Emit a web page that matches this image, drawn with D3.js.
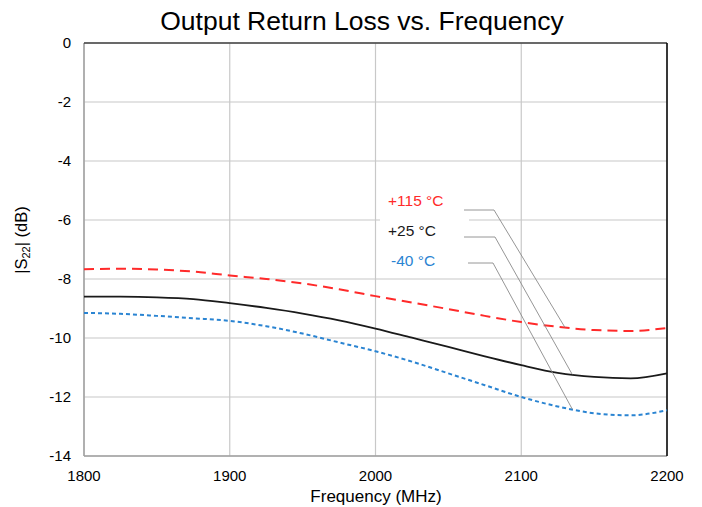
<!DOCTYPE html>
<html><head><meta charset="utf-8">
<script src="https://cdn.jsdelivr.net/npm/d3@7"></script>
<style>body{margin:0;background:#fff;} svg{display:block;font-family:"Liberation Sans",Arial,sans-serif;}</style>
</head><body>
<svg id="c" width="702" height="507"></svg>
<script>
const freqs = [1800,1825,1850,1875,1900,1925,1950,1975,2000,2025,2050,2075,2100,2125,2150,2175,2200];
const s22_p115 = [-7.67,-7.65,-7.68,-7.75,-7.88,-8.0,-8.15,-8.35,-8.58,-8.8,-9.02,-9.25,-9.46,-9.62,-9.73,-9.76,-9.66];
const s22_p25  = [-8.6,-8.6,-8.62,-8.68,-8.82,-8.98,-9.17,-9.4,-9.68,-9.99,-10.3,-10.62,-10.92,-11.18,-11.32,-11.37,-11.2];
const s22_m40  = [-9.15,-9.18,-9.25,-9.33,-9.42,-9.6,-9.85,-10.15,-10.45,-10.8,-11.2,-11.6,-12.0,-12.32,-12.55,-12.62,-12.45];
const seriesNames = ["+115 °C","+25 °C","-40 °C"];
const annoFreq = [2130,2135,2135];
const xTicks = [1800,1900,2000,2100,2200];
const yTicks = [0,-2,-4,-6,-8,-10,-12,-14];

const colors = ["#ff2a2a","#1a1a1a","#2a84d2"];
const dashes = ["10,6",null,"4,3"];
const widths = [2,1.8,2];
const series = [s22_p115,s22_p25,s22_m40];

const svg = d3.select("#c");
const L=84,R=667,T=43,B=456;
const x = d3.scaleLinear().domain([1800,2200]).range([L,R]);
const y = d3.scaleLinear().domain([-14,0]).range([B,T]);

// grid
svg.append("g").selectAll("line").data(yTicks).join("line")
  .attr("x1",L).attr("x2",R).attr("y1",d=>y(d)).attr("y2",d=>y(d))
  .attr("stroke","#c8c8c8").attr("stroke-width",1.2);
svg.append("g").selectAll("line").data(xTicks).join("line")
  .attr("x1",d=>x(d)).attr("x2",d=>x(d)).attr("y1",T).attr("y2",B)
  .attr("stroke","#c8c8c8").attr("stroke-width",1.2);

// label box covering grid
svg.append("rect").attr("x",380).attr("y",186).attr("width",89).attr("height",88).attr("fill","#fff");

// frame
svg.append("line").attr("x1",L).attr("x2",L).attr("y1",T).attr("y2",B).attr("stroke","#a0a0a0").attr("stroke-width",1.5);
svg.append("line").attr("x1",L).attr("x2",R).attr("y1",B).attr("y2",B).attr("stroke","#a0a0a0").attr("stroke-width",1.5);
svg.append("line").attr("x1",L).attr("x2",R).attr("y1",T).attr("y2",T).attr("stroke","#404040").attr("stroke-width",1.5);
svg.append("line").attr("x1",R).attr("x2",R).attr("y1",T).attr("y2",B).attr("stroke","#000").attr("stroke-width",1.5);

// curves
const line = d3.line().x(d=>x(d[0])).y(d=>y(d[1])).curve(d3.curveMonotoneX);
series.forEach((s,i)=>{
  svg.append("path").datum(freqs.map((f,j)=>[f,s[j]]))
    .attr("d",line).attr("fill","none").attr("stroke",colors[i])
    .attr("stroke-width",widths[i]).attr("stroke-dasharray",dashes[i]);
});

// leader lines & labels
const labelY = [201,231,261];
const hStart = [464,464,468];
const hEnd = [494,495,493];
const hY = [210,237,263];
series.forEach((s,i)=>{
  const f = annoFreq[i];
  const v = d3.scaleLinear().domain(freqs).range(s)(f);
  svg.append("polyline")
    .attr("points",`${hStart[i]},${hY[i]} ${hEnd[i]},${hY[i]} ${x(f)},${y(v)}`)
    .attr("fill","none").attr("stroke","#8a8a8a").attr("stroke-width",0.9);
  svg.append("text").attr("x",i==2?391:388).attr("y",labelY[i]+5)
    .attr("font-size",15.5).attr("fill",colors[i]).text(seriesNames[i]);
});

// tick labels
svg.append("g").selectAll("text").data(yTicks).join("text")
  .attr("x",71).attr("y",d=>y(d)+5).attr("text-anchor","end")
  .attr("font-size",15).attr("fill","#000").text(d=>d);
svg.append("g").selectAll("text").data(xTicks).join("text")
  .attr("x",d=>x(d)).attr("y",481).attr("text-anchor","middle")
  .attr("font-size",15).attr("fill","#000").text(d=>d);

// titles
svg.append("text").attr("x",362).attr("y",30).attr("text-anchor","middle")
  .attr("font-size",26.5).attr("fill","#000").text("Output Return Loss vs. Frequency");
svg.append("text").attr("x",376).attr("y",502).attr("text-anchor","middle")
  .attr("font-size",17).attr("fill","#000").text("Frequency (MHz)");
const yt = svg.append("text").attr("transform","translate(27,240) rotate(-90)")
  .attr("text-anchor","middle").attr("font-size",16.5).attr("fill","#000");
yt.append("tspan").text("|S");
yt.append("tspan").attr("font-size",11).attr("dy",3).text("22");
yt.append("tspan").attr("dy",-3).text("| (dB)");
</script>
</body></html>
